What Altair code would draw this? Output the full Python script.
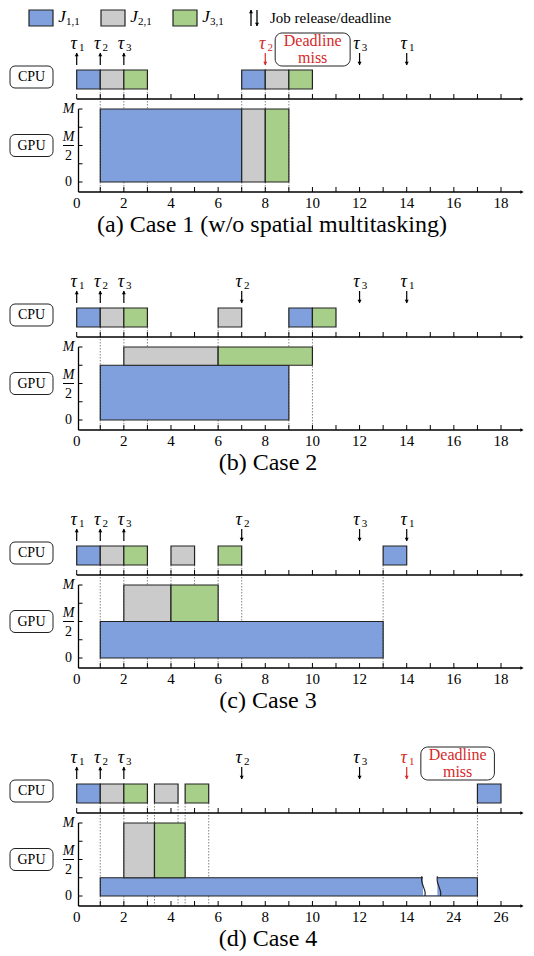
import altair as alt
import pandas as pd

# ---------------- data ----------------
JOBS = ["J1", "J2", "J3"]
JOB_SUB = ["1,1", "2,1", "3,1"]
JOB_COLORS = ["#7f9fdd", "#cbcbcb", "#a8cf8a"]
RED = "#d42a2a"

CASES = ["a", "b", "c", "d"]
CAPTIONS = {"a": "(a) Case 1 (w/o spatial multitasking)", "b": "(b) Case 2",
            "c": "(c) Case 3", "d": "(d) Case 4"}

cpu_job = {"a": ["J1", "J2", "J3", "J1", "J2", "J3"],
           "b": ["J1", "J2", "J3", "J2", "J1", "J3"],
           "c": ["J1", "J2", "J3", "J2", "J3", "J1"],
           "d": ["J1", "J2", "J3", "J2", "J3", "J1"]}
cpu_start = {"a": [0, 1, 2, 7, 8, 9], "b": [0, 1, 2, 6, 9, 10],
             "c": [0, 1, 2, 4, 6, 13], "d": [0, 1, 2, 3.3, 4.6, 17]}
cpu_end = {"a": [1, 2, 3, 8, 9, 10], "b": [1, 2, 3, 7, 10, 11],
           "c": [1, 2, 3, 5, 7, 14], "d": [1, 2, 3, 4.3, 5.6, 18]}

gpu_job = {c: ["J1", "J2", "J3"] for c in CASES}
gpu_start = {"a": [1, 7, 8], "b": [1, 2, 6], "c": [1, 2, 4], "d": [1, 2, 3.3]}
gpu_end = {"a": [7, 8, 9], "b": [9, 6, 10], "c": [13, 4, 6], "d": [17, 3.3, 4.6]}
gpu_lo = {"a": [0, 0, 0], "b": [0, 0.75, 0.75], "c": [0, 0.5, 0.5], "d": [0, 0.25, 0.25]}
gpu_hi = {"a": [1, 1, 1], "b": [0.75, 1, 1], "c": [0.5, 1, 1], "d": [0.25, 1, 1]}

guide_x = {"a": [1, 2, 3, 7, 8, 9], "b": [1, 2, 3, 6, 9, 10],
           "c": [1, 2, 3, 4, 5, 6, 7, 13], "d": [1, 2, 3, 3.3, 4.3, 4.6, 5.6, 17]}

rel_x = [0, 1, 2]
rel_sub = ["1", "2", "3"]
dl_x = {"a": [8, 12, 14], "b": [7, 12, 14], "c": [7, 12, 14], "d": [7, 12, 14]}
dl_sub = ["2", "3", "1"]
dl_miss = {"a": [True, False, False], "b": [False, False, False],
           "c": [False, False, False], "d": [False, False, True]}
miss_box = {"a": [8.42, 11.6], "d": [14.6, 17.72]}

x_ticks = list(range(0, 19))
x_label_pos = [0, 2, 4, 6, 8, 10, 12, 14, 16, 18]
x_labels = {c: ["0", "2", "4", "6", "8", "10", "12", "14", "16", "18"] for c in "abc"}
x_labels["d"] = ["0", "2", "4", "6", "8", "10", "12", "14", "24", "26"]
y_ticks = [0, 0.25, 0.5, 0.75, 1]
break_span = {"d": [14.64, 15.3]}

# ---------------- layout ----------------
W = 518
XR = [68.7, 493.0]
T = 13
YAX = 70.5
XEND = 514
FONT = "Liberation Serif"
ONE = pd.DataFrame({"k": [0]})


def xs():
    return alt.Scale(domain=[0, 18], range=XR, nice=False, zero=False)


def ys():
    return alt.Scale(domain=[0, 1], range=[T + 137, T + 64], nice=False, zero=False)


def X(f="x"):
    return alt.X(f + ":Q", scale=xs(), axis=None)


def Y(f="y"):
    return alt.Y(f + ":Q", scale=ys(), axis=None)


COLOR = alt.Color("job:N", scale=alt.Scale(domain=JOBS, range=JOB_COLORS), legend=None)


def label_box(text, ymid):
    box = alt.Chart(ONE).mark_rect(fill="white", stroke="#222", strokeWidth=1,
                                   cornerRadius=5).encode(
        x=alt.value(2), x2=alt.value(45), y=alt.value(ymid - 11), y2=alt.value(ymid + 11))
    txt = alt.Chart(ONE).mark_text(text=text, font=FONT, fontSize=14, color="black").encode(
        x=alt.value(23.5), y=alt.value(ymid))
    return [box, txt]


def panel(c, height):
    layers = []
    # dotted guides
    layers.append(alt.Chart(pd.DataFrame({"x": guide_x[c]})).mark_rule(
        color="#666", strokeDash=[1.5, 1.5], strokeWidth=0.8).encode(
        x=X(), y=alt.value(T + 44), y2=alt.value(T + 147)))
    # CPU axis
    layers.append(alt.Chart(ONE).mark_rule(color="black", strokeWidth=1.3).encode(
        x=alt.value(XR[0]), x2=alt.value(XEND), y=alt.value(T + 54)))
    layers.append(alt.Chart(pd.DataFrame({"x": x_ticks})).mark_rule(
        color="black", strokeWidth=1).encode(x=X(), y=alt.value(T + 49), y2=alt.value(T + 54)))
    layers.append(alt.Chart(ONE).mark_point(shape="triangle-right", filled=True, size=14,
                                            color="black", opacity=1).encode(
        x=alt.value(XEND), y=alt.value(T + 54)))
    # GPU axes
    layers.append(alt.Chart(ONE).mark_rule(color="black", strokeWidth=1.3).encode(
        x=alt.value(YAX), x2=alt.value(XEND), y=alt.value(T + 147)))
    layers.append(alt.Chart(ONE).mark_rule(color="black", strokeWidth=1.3).encode(
        x=alt.value(YAX), y=alt.value(T + 64), y2=alt.value(T + 147)))
    layers.append(alt.Chart(ONE).mark_point(shape="triangle-right", filled=True, size=14,
                                            color="black", opacity=1).encode(
        x=alt.value(XEND), y=alt.value(T + 147)))
    layers.append(alt.Chart(pd.DataFrame({"x": x_ticks[1:]})).mark_rule(
        color="black", strokeWidth=1).encode(x=X(), y=alt.value(T + 142), y2=alt.value(T + 147)))
    layers.append(alt.Chart(pd.DataFrame({"y": y_ticks})).mark_rule(
        color="black", strokeWidth=1).encode(y=Y(), x=alt.value(YAX), x2=alt.value(YAX + 4)))
    # x tick labels
    layers.append(alt.Chart(pd.DataFrame({"x": x_label_pos, "t": x_labels[c]})).mark_text(
        font=FONT, fontSize=15, color="black", baseline="middle").encode(
        x=X(), y=alt.value(T + 158), text="t:N"))
    # y labels
    layers.append(alt.Chart(pd.DataFrame({"y": [1]})).mark_text(
        text="M", font=FONT, fontSize=14, fontStyle="italic", color="black",
        baseline="middle").encode(y=Y(), x=alt.value(60.5)))
    layers.append(alt.Chart(pd.DataFrame({"y": [0]})).mark_text(
        text="0", font=FONT, fontSize=14, color="black",
        baseline="middle").encode(y=Y(), x=alt.value(60.5)))
    half = pd.DataFrame({"y": [0.5]})
    layers.append(alt.Chart(half).mark_text(text="M", font=FONT, fontSize=14, fontStyle="italic",
                                            baseline="middle", dy=-9, color="black").encode(
        y=Y(), x=alt.value(60.5)))
    layers.append(alt.Chart(half).mark_text(text="2", font=FONT, fontSize=14,
                                            baseline="middle", dy=10, color="black").encode(
        y=Y(), x=alt.value(60.5)))
    layers.append(alt.Chart(half).mark_rule(color="black", strokeWidth=1).encode(
        y=Y(), x=alt.value(55), x2=alt.value(66)))
    # CPU / GPU boxes
    layers += label_box("CPU", T + 32)
    layers += label_box("GPU", T + 100.5)
    # CPU bars
    cpu_df = pd.DataFrame({"job": cpu_job[c], "x": cpu_start[c], "x2": cpu_end[c]})
    layers.append(alt.Chart(cpu_df).mark_rect(stroke="#222", strokeWidth=1.2).encode(
        x=X(), x2="x2:Q", y=alt.value(T + 25), y2=alt.value(T + 44), color=COLOR))
    # GPU bars
    gpu_df = pd.DataFrame({"job": gpu_job[c], "x": gpu_start[c], "x2": gpu_end[c],
                           "y": gpu_lo[c], "y2": gpu_hi[c]})
    layers.append(alt.Chart(gpu_df).mark_rect(stroke="#222", strokeWidth=1.2).encode(
        x=X(), x2="x2:Q", y=Y(), y2="y2:Q", color=COLOR))
    # axis break (drawn in the GPU scale)
    if c in break_span:
        b0, b1 = break_span[c]
        layers.append(alt.Chart(pd.DataFrame({"x": [b0 + 0.05], "x2": [b1], "y": [0.012],
                                              "y2": [0.265]})).mark_rect(
            fill="white").encode(x=X(), x2="x2:Q", y=Y(), y2="y2:Q"))
        wig = pd.DataFrame({"k": [0, 1, 2, 3, 4], "y": [0.27, 0.2, 0.125, 0.05, 0.0]})
        for bx in (b0, b1):
            w = wig.assign(x=[bx, bx - 0.02, bx + 0.07, bx + 0.16, bx + 0.13])
            layers.append(alt.Chart(w).mark_line(color="#222", strokeWidth=1.2,
                                                 interpolate="basis").encode(
                x=X(), y=Y(), order="k:Q"))
    # release / deadline arrows
    up = pd.DataFrame({"x": rel_x, "s": rel_sub, "col": ["black"] * 3})
    dn = pd.DataFrame({"x": dl_x[c], "s": dl_sub,
                       "col": [RED if m else "black" for m in dl_miss[c]]})
    for df, shape, ytip in ((up, "triangle-up", T + 9.5), (dn, "triangle-down", T + 18.5)):
        layers.append(alt.Chart(df).mark_rule(strokeWidth=1.2).encode(
            x=X(), y=alt.value(T + 8), y2=alt.value(T + 20), color=alt.Color("col:N", scale=None)))
        layers.append(alt.Chart(df).mark_point(shape=shape, filled=True, size=16, opacity=1).encode(
            x=X(), y=alt.value(ytip), color=alt.Color("col:N", scale=None)))
        layers.append(alt.Chart(df).mark_text(text="τ", font=FONT, fontSize=18, fontStyle="italic",
                                              dx=-3, baseline="middle").encode(
            x=X(), y=alt.value(T - 1), color=alt.Color("col:N", scale=None)))
        layers.append(alt.Chart(df).mark_text(font=FONT, fontSize=11, dx=5,
                                              baseline="middle").encode(
            x=X(), y=alt.value(T + 3), text="s:N", color=alt.Color("col:N", scale=None)))
    # deadline miss box
    if c in miss_box:
        mb = pd.DataFrame({"x": [miss_box[c][0]], "x2": [miss_box[c][1]],
                           "xm": [(miss_box[c][0] + miss_box[c][1]) / 2]})
        layers.append(alt.Chart(mb).mark_rect(fill="white", stroke="#222", strokeWidth=1,
                                              cornerRadius=7).encode(
            x=X(), x2="x2:Q", y=alt.value(T - 12), y2=alt.value(T + 21)))
        layers.append(alt.Chart(mb).mark_text(text="Deadline", font=FONT, fontSize=16,
                                              color=RED, baseline="middle").encode(
            x=X("xm"), y=alt.value(T - 4)))
        layers.append(alt.Chart(mb).mark_text(text="miss", font=FONT, fontSize=16,
                                              color=RED, baseline="middle").encode(
            x=X("xm"), y=alt.value(T + 13)))
    # caption
    cx = 264 if c == "a" else 260
    layers.append(alt.Chart(ONE).mark_text(text=CAPTIONS[c], font=FONT, fontSize=24,
                                           color="black", baseline="middle").encode(
        x=alt.value(cx), y=alt.value(T + 180)))
    return alt.layer(*layers).properties(width=W, height=height)


# legend strip
leg_layers = []
for k, job in enumerate(JOBS):
    x0 = 21 + 72 * k
    leg_layers.append(alt.Chart(pd.DataFrame({"job": [job]})).mark_rect(
        stroke="#222", strokeWidth=1.2).encode(
        x=alt.value(x0), x2=alt.value(x0 + 24), y=alt.value(0), y2=alt.value(16),
        color=alt.Color("job:N", scale=alt.Scale(domain=JOBS, range=JOB_COLORS), legend=None)))
    leg_layers.append(alt.Chart(ONE).mark_text(text="J", font=FONT, fontSize=17,
                                               fontStyle="italic", baseline="middle").encode(
        x=alt.value(x0 + 33), y=alt.value(7)))
    leg_layers.append(alt.Chart(ONE).mark_text(text=JOB_SUB[k], font=FONT, fontSize=11,
                                               align="left", baseline="middle").encode(
        x=alt.value(x0 + 37), y=alt.value(12)))
for ax, shape, ytip in ((243, "triangle-up", 1.5), (249, "triangle-down", 14.5)):
    leg_layers.append(alt.Chart(ONE).mark_rule(color="black", strokeWidth=1.3).encode(
        x=alt.value(ax), y=alt.value(0), y2=alt.value(16)))
    leg_layers.append(alt.Chart(ONE).mark_point(shape=shape, filled=True, size=16, color="black",
                                                opacity=1).encode(x=alt.value(ax), y=alt.value(ytip)))
leg_layers.append(alt.Chart(ONE).mark_text(text="Job release/deadline", font=FONT, fontSize=15,
                                           align="left", baseline="middle").encode(
    x=alt.value(262), y=alt.value(8)))
legend = alt.layer(*leg_layers).properties(width=W, height=22)

panels = [panel(c, 238 if c != "d" else 203) for c in CASES]

chart = alt.vconcat(legend, *panels, spacing=0).properties(padding=0).configure_view(
    stroke=None).configure_concat(spacing=0)

chart.save("out.html", embed_options={"renderer": "svg", "actions": False})
